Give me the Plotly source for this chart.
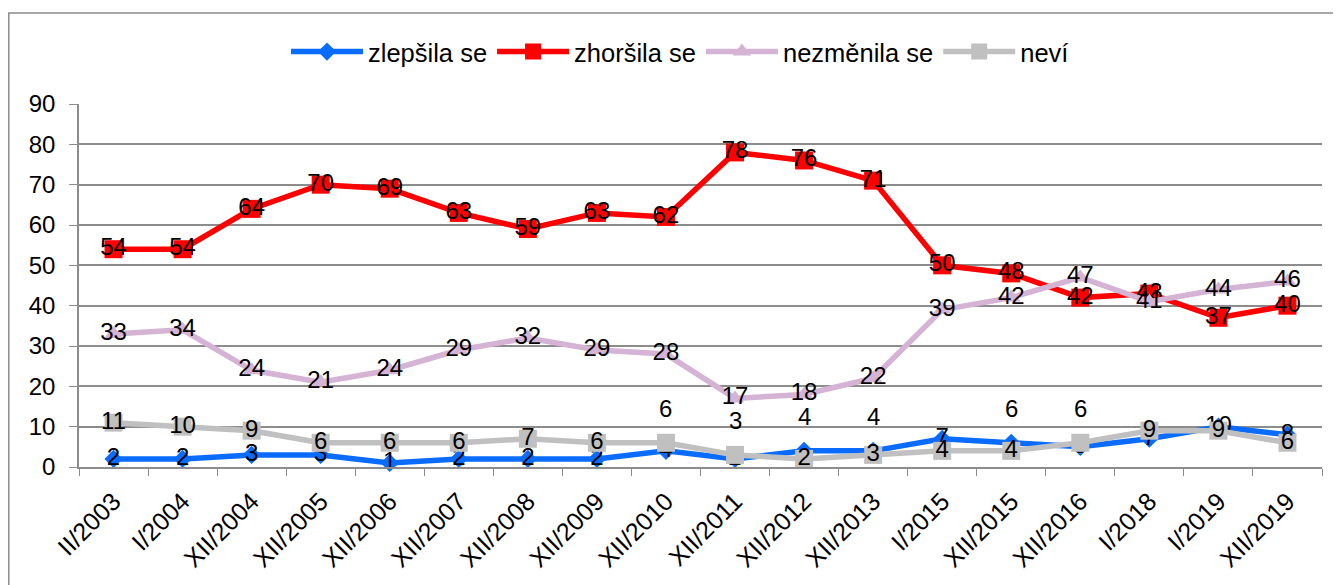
import plotly.graph_objects as go

categories = ["II/2003", "I/2004", "XII/2004", "XII/2005", "XII/2006", "XII/2007",
              "XII/2008", "XII/2009", "XII/2010", "XII/2011", "XII/2012", "XII/2013",
              "I/2015", "XII/2015", "XII/2016", "I/2018", "I/2019", "XII/2019"]

zlepsila = [2, 2, 3, 3, 1, 2, 2, 2, 4, 2, 4, 4, 7, 6, 5, 7, 10, 8]
zhorsila = [54, 54, 64, 70, 69, 63, 59, 63, 62, 78, 76, 71, 50, 48, 42, 43, 37, 40]
nezmenila = [33, 34, 24, 21, 24, 29, 32, 29, 28, 17, 18, 22, 39, 42, 47, 41, 44, 46]
nevi = [11, 10, 9, 6, 6, 6, 7, 6, 6, 3, 2, 3, 4, 4, 6, 9, 9, 6]

y_ticks = [0, 10, 20, 30, 40, 50, 60, 70, 80, 90]

# labels that are drawn raised above their point: (series name, category)
raised = {("zlepšila se", "XII/2012"), ("zlepšila se", "XII/2013"), ("zlepšila se", "XII/2015"),
          ("neví", "XII/2010"), ("neví", "XII/2011"), ("neví", "XII/2016")}

series = [
    ("zlepšila se", zlepsila, "#0A6CFF", "diamond", 14),
    ("zhoršila se", zhorsila, "#FF0000", "square", 18),
    ("nezměnila se", nezmenila, "#D5B3D5", "triangle-up", 16),
    ("neví", nevi, "#C0C0C0", "square", 18),
]

FONT = "Liberation Sans, Arial, sans-serif"
FS = 24
fig = go.Figure()
annotations = []
for name, vals, color, sym, msize in series:
    texts = []
    for c, v in zip(categories, vals):
        if (name, c) in raised:
            texts.append("")
            annotations.append(dict(x=c, y=v, xref="x", yref="y", text=str(v),
                                    showarrow=False, yshift=34,
                                    font=dict(family=FONT, size=FS, color="black")))
        else:
            texts.append(str(v))
    fig.add_trace(go.Scatter(
        x=categories, y=vals, name=name, mode="lines+markers+text",
        line=dict(color=color, width=5.5),
        marker=dict(symbol=sym, size=msize, color=color),
        text=texts, textposition="middle center",
        textfont=dict(family=FONT, size=FS, color="black"),
        cliponaxis=False,
    ))

# page body has an 8px margin, so figure coordinates are offset by 8px
W, H = 1341, 585
L, R, T, B = 71, 27, 96, 126
pw, ph = W - L - R, H - T - B

shapes = [dict(type="rect", xref="paper", yref="paper",
               x0=(0.8 - L) / pw, x1=(1360 - L) / pw,
               y0=-(610 - (H - B)) / ph, y1=((H - B) - 5) / ph,
               line=dict(color="#8C8C8C", width=1.5), layer="below")]

fig.update_layout(
    width=W, height=H,
    margin=dict(l=L, r=R, t=T, b=B, autoexpand=False),
    paper_bgcolor="white", plot_bgcolor="white",
    font=dict(family=FONT, size=FS, color="black"),
    showlegend=True,
    legend=dict(orientation="h", xref="container", yref="container",
                x=672 / W, xanchor="center", y=1 - 44 / H, yanchor="middle",
                font=dict(family=FONT, size=25.5, color="black"),
                itemwidth=72, tracegroupgap=0, bgcolor="rgba(0,0,0,0)"),
    xaxis=dict(type="category", range=[-0.5, len(categories) - 0.5], automargin=False,
               tickangle=-45, tickson="boundaries", ticks="outside", ticklen=7,
               ticklabelstandoff=8,
               tickcolor="#8C8C8C", showline=True, linecolor="#8C8C8C", linewidth=1.5,
               showgrid=False, tickfont=dict(family=FONT, size=25, color="black")),
    yaxis=dict(range=[0, 90], tickvals=y_ticks, ticks="outside", ticklen=8, automargin=False,
               ticklabelstandoff=9,
               tickcolor="#8C8C8C", showline=True, linecolor="#8C8C8C", linewidth=1.5,
               showgrid=True, gridcolor="#8C8C8C", gridwidth=1.5, zeroline=False,
               tickfont=dict(family=FONT, size=FS, color="black")),
    annotations=annotations,
    shapes=shapes,
)

fig.write_html("out.html")
